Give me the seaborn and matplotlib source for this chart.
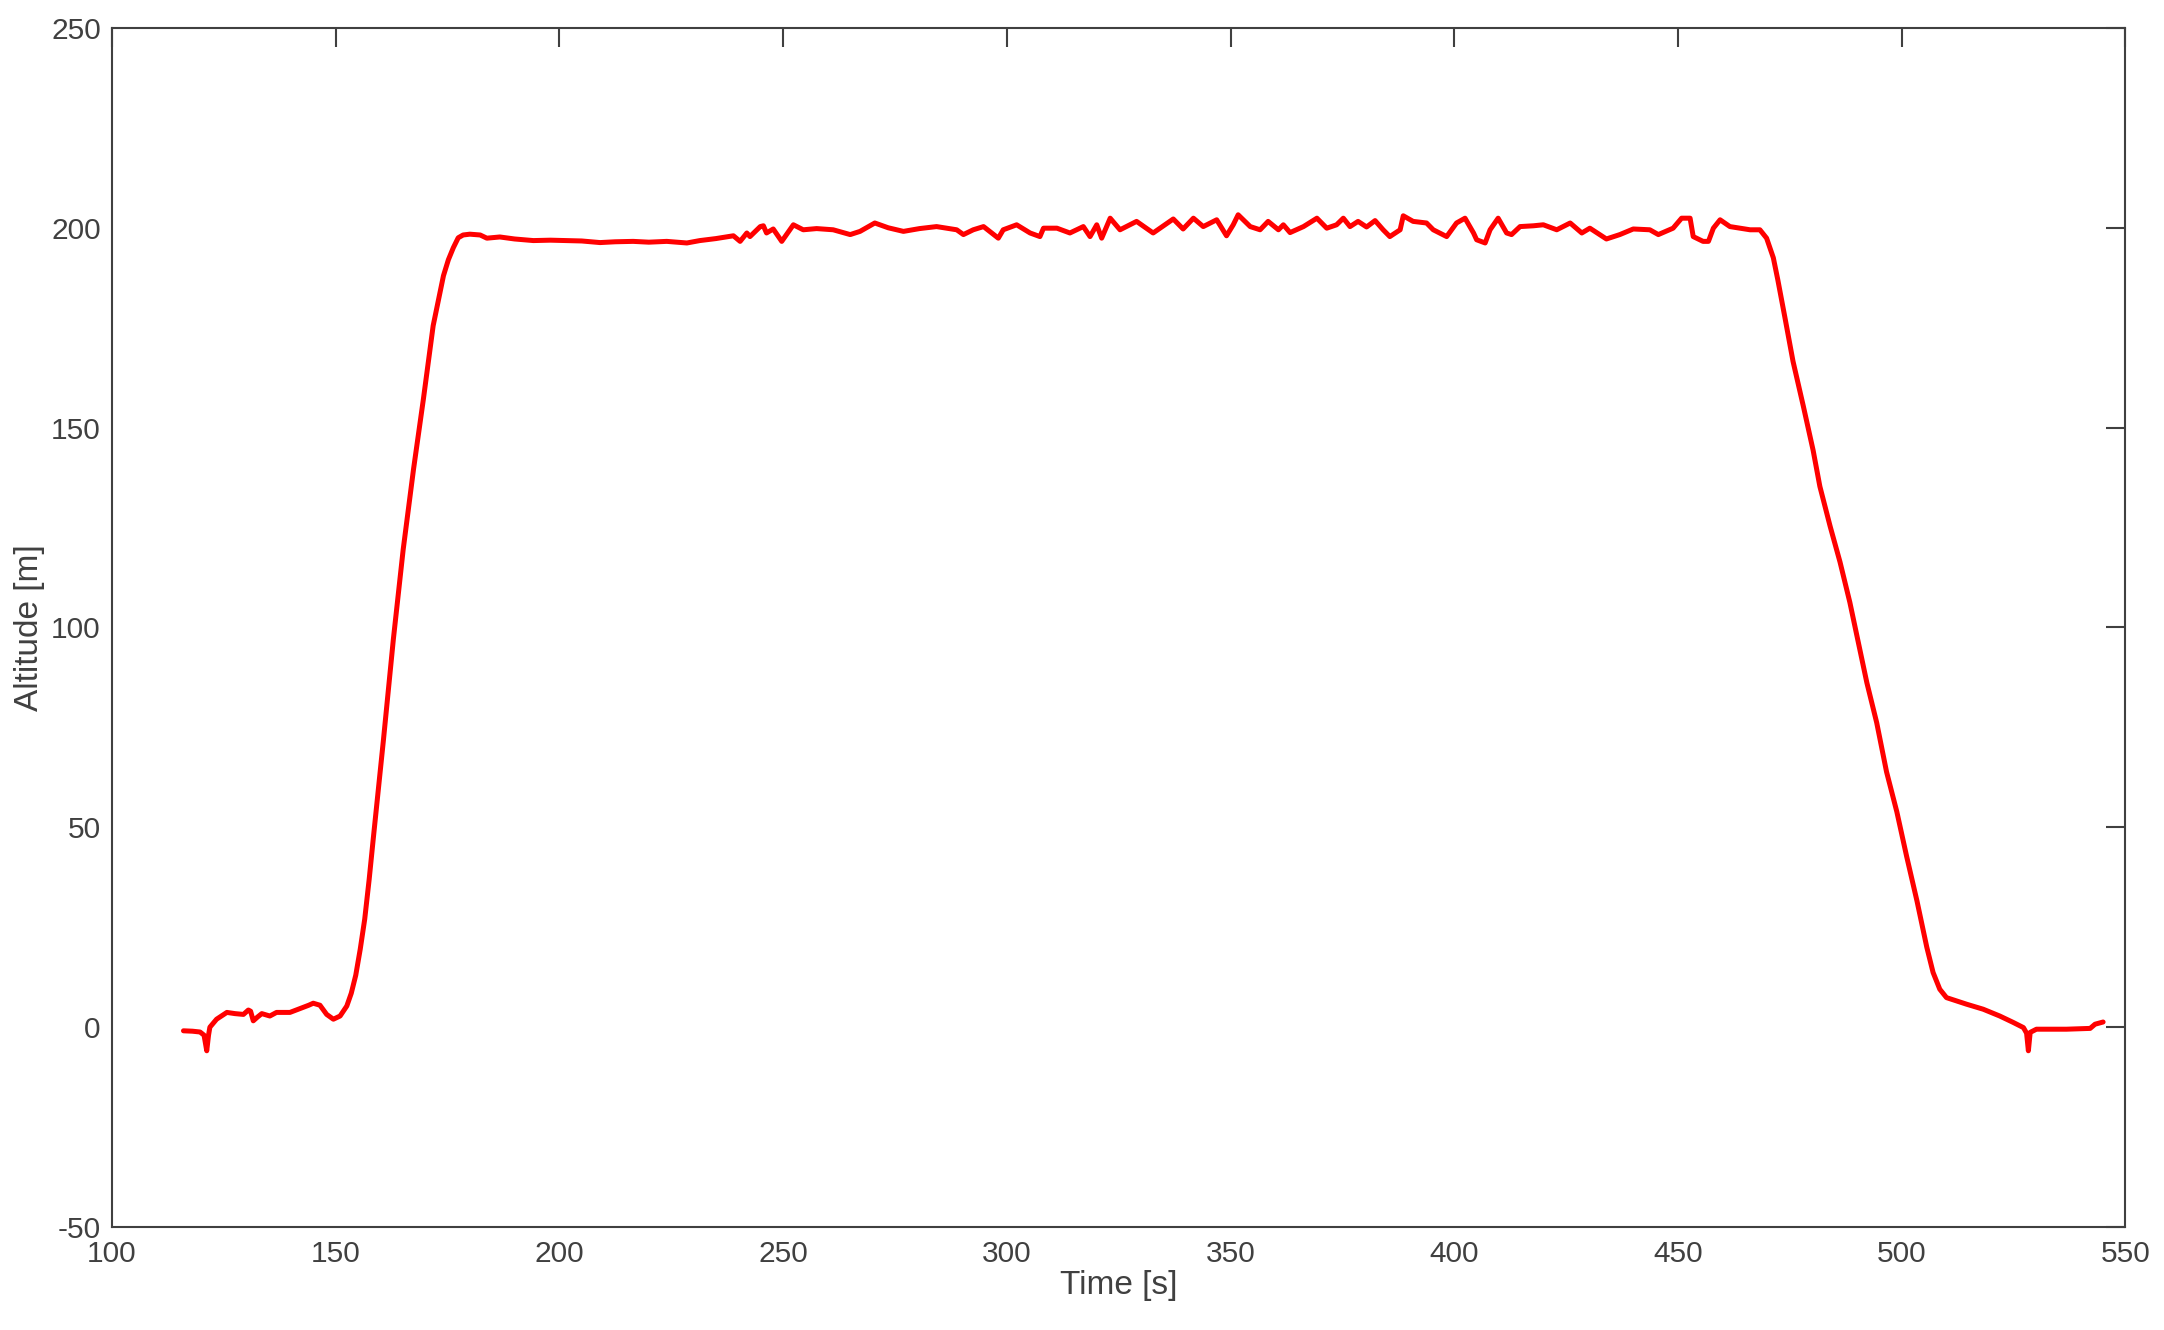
import matplotlib
matplotlib.use("Agg")
import matplotlib.pyplot as plt
import seaborn as sns
import pandas as pd

time_s = [
    116.0, 118.0, 119.7, 120.6, 121.2, 121.6, 121.9, 123.4, 125.7, 127.5,
    129.4, 130.5, 131.0, 131.6, 132.5, 133.5, 135.3, 136.8, 139.8, 142.1,
    144.0, 145.0, 146.5, 148.0, 149.5, 151.0, 152.5, 153.5, 154.5, 155.5,
    156.5, 157.5, 158.4, 160.7, 162.9, 165.1, 167.4, 169.6, 171.8, 174.1,
    175.2, 176.3, 177.4, 178.5, 180.0, 182.3, 183.8, 186.7, 190.0, 194.2,
    198.0, 201.6, 205.0, 209.1, 212.5, 216.5, 220.0, 224.0, 228.5, 231.4,
    235.0, 238.9, 240.4, 241.9, 242.6, 244.9, 245.6, 246.3, 247.8, 249.7,
    252.3, 254.5, 257.5, 261.2, 265.0, 267.2, 270.5, 273.5, 276.9, 280.5,
    284.3, 288.8, 290.3, 292.5, 294.8, 298.1, 299.2, 302.2, 305.2, 307.4,
    308.2, 311.2, 314.1, 317.1, 318.6, 320.1, 321.2, 323.1, 325.3, 329.0,
    332.7, 335.0, 337.2, 339.4, 341.7, 343.9, 346.9, 349.1, 350.6, 351.7,
    354.4, 356.6, 358.4, 360.7, 361.8, 363.3, 366.3, 369.3, 371.5, 373.7,
    375.2, 376.7, 378.5, 380.4, 382.3, 384.1, 385.6, 387.9, 388.6, 390.8,
    393.8, 395.3, 398.3, 400.5, 402.4, 404.3, 405.0, 406.9, 408.0, 409.8,
    411.7, 412.8, 414.7, 417.7, 419.9, 422.9, 425.9, 428.5, 430.3, 434.0,
    437.0, 440.0, 443.7, 445.6, 448.9, 450.8, 452.7, 453.4, 455.6, 456.8,
    457.9, 459.4, 461.6, 466.1, 468.3, 469.8, 471.3, 472.3, 473.9, 475.7,
    478.0, 480.2, 481.7, 484.0, 486.2, 488.4, 490.3, 492.2, 494.4, 496.6,
    498.9, 501.1, 503.4, 505.6, 507.0, 508.5, 510.0, 514.5, 518.2, 521.9,
    524.9, 527.2, 527.9, 528.3, 528.7, 530.1, 536.8, 542.1, 543.2, 545.0,
]

altitude_m = [
    -0.9, -1.0, -1.2, -2.0, -5.9, -2.0, 0.0, 2.0, 3.7, 3.4,
    3.2, 4.3, 4.0, 1.6, 2.5, 3.4, 2.8, 3.7, 3.7, 4.7,
    5.5, 6.0, 5.5, 3.2, 2.0, 2.8, 5.3, 8.5, 13.0, 19.5,
    27.0, 37.0, 47.0, 72.0, 97.0, 119.5, 139.5, 157.0, 175.5, 188.0,
    192.0, 195.0, 197.5, 198.2, 198.4, 198.2, 197.4, 197.7, 197.2, 196.8,
    196.9, 196.8, 196.7, 196.3, 196.5, 196.6, 196.4, 196.6, 196.2, 196.8,
    197.3, 198.0, 196.6, 198.7, 197.8, 200.3, 200.5, 198.7, 199.7, 196.6,
    200.75, 199.5, 199.8, 199.5, 198.3, 199.1, 201.2, 200.0, 199.1, 199.8,
    200.3, 199.5, 198.3, 199.5, 200.3, 197.4, 199.5, 200.75, 198.7, 197.8,
    199.9, 199.9, 198.7, 200.3, 197.8, 200.75, 197.4, 202.4, 199.5, 201.6,
    198.7, 200.5, 202.2, 199.7, 202.4, 200.3, 202.0, 198.0, 200.75, 203.25,
    200.3, 199.5, 201.6, 199.5, 200.75, 198.8, 200.3, 202.4, 199.9, 200.75,
    202.4, 200.3, 201.6, 200.2, 201.8, 199.5, 197.8, 199.5, 203.0, 201.6,
    201.2, 199.5, 197.8, 201.2, 202.4, 198.7, 197.0, 196.2, 199.5, 202.4,
    198.7, 198.3, 200.3, 200.5, 200.75, 199.5, 201.2, 198.7, 199.9, 197.2,
    198.3, 199.7, 199.5, 198.3, 199.9, 202.4, 202.4, 197.8, 196.6, 196.6,
    199.9, 202.0, 200.3, 199.5, 199.5, 197.4, 192.5, 187.0, 177.5, 166.6,
    155.4, 144.3, 135.3, 125.3, 116.4, 106.3, 96.3, 86.2, 76.2, 63.9,
    53.9, 42.7, 31.6, 20.0, 13.7, 9.5, 7.4, 5.75, 4.5, 2.8,
    1.2, -0.1, -1.5, -5.9, -1.3, -0.5, -0.5, -0.3, 0.75, 1.3,
]

x_ticks = [100, 150, 200, 250, 300, 350, 400, 450, 500, 550]
y_ticks = [-50, 0, 50, 100, 150, 200, 250]
x_label = "Time [s]"
y_label = "Altitude [m]"

sns.set_style("white")
grey = "#404040"
plt.rcParams["font.family"] = ["Liberation Sans", "DejaVu Sans"]

df = pd.DataFrame({"time": time_s, "alt": altitude_m})

fig = plt.figure(figsize=(21.64, 13.30), dpi=100)
ax = fig.add_axes([0.0517, 0.0774, 0.9305, 0.9016])

sns.lineplot(data=df, x="time", y="alt", ax=ax, color="#ff0000",
             linewidth=3.6, estimator=None, sort=False)

ax.set_xlim(100, 550)
ax.set_ylim(-50, 250)
ax.set_xticks(x_ticks)
ax.set_yticks(y_ticks)
ax.set_xticklabels([str(v) for v in x_ticks])
ax.set_yticklabels([str(v) for v in y_ticks])

ax.tick_params(axis="both", which="both", direction="in", length=14,
               width=1.5, colors=grey, labelsize=21.5,
               top=True, right=True, labelcolor=grey)
ax.tick_params(axis="x", pad=9)
ax.tick_params(axis="y", pad=8)

for s in ax.spines.values():
    s.set_visible(True)
    s.set_color(grey)
    s.set_linewidth(1.5)

ax.set_xlabel(x_label, fontsize=24, color=grey, labelpad=2)
ax.set_ylabel(y_label, fontsize=24, color=grey, labelpad=4)
ax.grid(False)

fig.savefig("out.png", dpi=100, facecolor="white")
